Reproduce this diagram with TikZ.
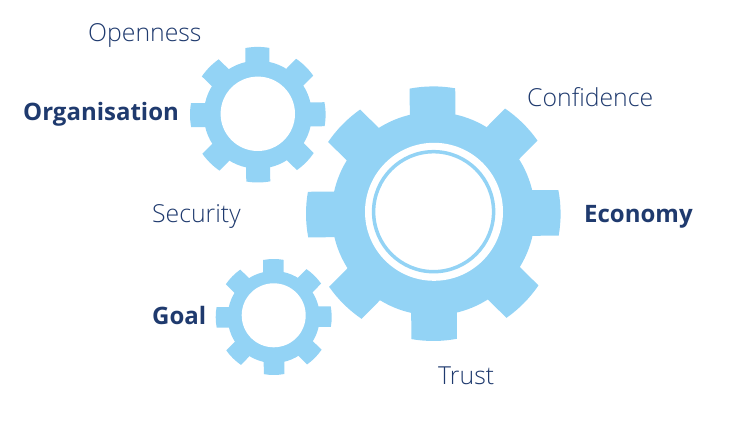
\documentclass[tikz,border=0pt]{standalone}
\usepackage{fontspec}
\setmainfont{Open Sans}
\newfontfamily\lightfont{Open Sans Light}
\usepackage{xcolor}
\usepackage{tikz}
\definecolor{gearblue}{HTML}{93D3F5}
\definecolor{labelnavy}{HTML}{1F3A6E}

\begin{document}
\begin{tikzpicture}[
  x=1pt, y=-1pt,
  gearpart/.style={fill=gearblue, draw=none},
  holepart/.style={fill=white, draw=none},
  lab/.style={anchor=base west, inner sep=0pt, text=labelnavy,
              font=\fontsize{24.8}{29}\selectfont\lightfont},
  blab/.style={anchor=base west, inner sep=0pt, text=labelnavy,
               font=\fontsize{24}{28}\selectfont\bfseries},
]
\useasboundingbox (0,0) rectangle (750,422);

% ---- Gears: x/y/outer/root/half tooth/hole x/hole y/hole r -----------------
\foreach \cx/\cy/\outer/\rootr/\halfw/\hx/\hy/\hr in {
    433.3/213.7/127.3/101.6/22.8/434/211.8/69,
    257.8/114.7/67.8/54/12/257.8/113.8/37.2,
    273.7/317/58/46/10.3/273.7/315.3/32} {
  \pgfmathsetmacro\tipang{asin(\halfw/\outer)}
  \fill[gearpart] (\cx,\cy) circle[radius=\rootr];
  \foreach \a in {0,45,...,315} {
    \fill[gearpart, shift={(\cx,\cy)}, rotate=\a+0.4]
      (-\halfw,\rootr-3) -- ({90+\tipang}:\outer)
      arc[start angle=90+\tipang, end angle=90-\tipang, radius=\outer]
      -- (\halfw,\rootr-3) -- cycle;
  }
  \fill[holepart] (\hx,\hy) circle[radius=\hr];
}

% ---- Ring inside the big gear -----------------------------------------------
\draw[draw=gearblue, line width=3.5pt] (433.6,211.7) circle[radius=60];

% ---- Labels -----------------------------------------------------------------
\node[lab] (openness) at (88,42) {Openness};
\node[blab] (organisation) at (23,121) {Organisation};
\node[lab] (security) at (152,223) {Security};
\node[blab] (goal) at (152,324) {Goal};
\node[lab] (confidence) at (527,107) {Confidence};
\node[blab] (economy) at (584,223) {Economy};
\node[lab] (trust) at (438,384) {Trust};

\end{tikzpicture}
\end{document}
